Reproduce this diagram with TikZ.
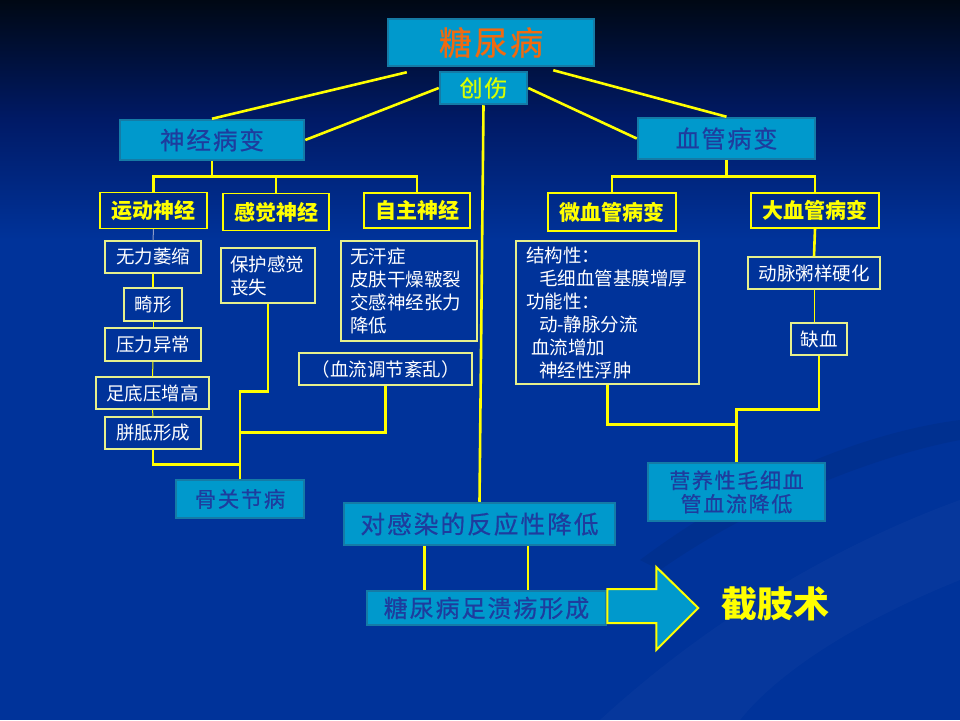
\documentclass[tikz,border=0pt]{standalone}
\usepackage{fontspec}
\newfontfamily\cjk{Noto Sans CJK SC}
\newfontfamily\cjkwide[LetterSpace=8,FakeBold=0.6]{Noto Sans CJK SC}

\definecolor{bgtop}{HTML}{000814}
\definecolor{bgmid}{HTML}{001A66}
\definecolor{bgblue}{HTML}{00339A}
\definecolor{boxfill}{HTML}{0099CC}
\definecolor{boxedge}{HTML}{157BA6}
\definecolor{boxtext}{HTML}{1E3C9E}
\definecolor{titleorange}{HTML}{F06A10}
\definecolor{lineyellow}{HTML}{FFFF00}
\definecolor{paleedge}{HTML}{E6F08C}
\definecolor{fadeline}{HTML}{8C9CC8}

\tikzset{
  cyanbox/.style={draw=boxedge, line width=2.5pt, fill=boxfill, text=boxtext, inner sep=0pt},
  ybox/.style={draw=lineyellow, line width=1.3pt, text=lineyellow, inner sep=0pt,
    font=\cjk\bfseries\fontsize{21}{25}\selectfont},
  wbox/.style={draw=paleedge, line width=1.2pt, text=white, inner sep=0pt,
    font=\cjk\fontsize{18.5}{23}\selectfont},
  yline/.style={draw=lineyellow, line width=2.6pt},
  thinline/.style={draw=lineyellow, line width=1pt},
}

\begin{document}
\begin{tikzpicture}[x=1pt,y=-1pt]

% background
\fill[bgblue] (0,0) rectangle (960,720);
\shade[top color=bgtop, bottom color=bgblue, middle color=bgmid] (0,0) rectangle (960,240);
\fill[white, opacity=0.025] (600,720) .. controls (720,610) and (850,540) .. (960,500)
  -- (960,580) .. controls (860,620) and (780,670) .. (740,720) -- cycle;
\fill[black, opacity=0.06] (640,560) .. controls (760,470) and (880,430) .. (960,420)
  -- (960,440) .. controls (880,455) and (760,500) .. (660,570) -- cycle;
\useasboundingbox (0,0) rectangle (960,720);

% top
\node[cyanbox, minimum width=206, minimum height=47, text=titleorange,
  font=\cjkwide\fontsize{33}{36}\selectfont] (tnb) at (491,42.5) {糖尿病};
\node[cyanbox, minimum width=87, minimum height=32, text=lineyellow!85!green,
  font=\cjkwide\fontsize{23}{26}\selectfont] (cs) at (483.5,88) {创伤};
\node[cyanbox, minimum width=184, minimum height=40,
  font=\cjkwide\fontsize{24.5}{27}\selectfont] (sjbb) at (212,140) {神经病变};
\node[cyanbox, minimum width=177, minimum height=41,
  font=\cjkwide\fontsize{24}{27}\selectfont] (xgbb) at (726.5,138.5) {血管病变};

% nerves
\node[ybox, minimum width=107, minimum height=36] (ydsj) at (153.5,210.5) {运动神经};
\node[ybox, minimum width=106, minimum height=37] (gjsj) at (276,212) {感觉神经};
\node[ybox, minimum width=106, minimum height=35] (zzsj) at (417,210.5) {自主神经};

\node[wbox, minimum width=96, minimum height=32] (wlws) at (153,257) {无力萎缩};
\node[wbox, minimum width=58, minimum height=33] (jx) at (153,304.5) {畸形};
\node[wbox, minimum width=96, minimum height=33] (ylyc) at (153,344.5) {压力异常};
\node[wbox, minimum width=113, minimum height=32] (zdy) at (152.5,393) {足底压增高};
\node[wbox, minimum width=96, minimum height=32] (pzxc) at (153,433) {胼胝形成};

\node[wbox, align=left, text width=76, inner xsep=9, minimum height=55] (bhgj) at (268,275.5)
  {保护感觉\\丧失};
\node[wbox, align=left, text width=118, inner xsep=9, minimum height=100] (wlhz) at (409,291)
  {无汗症\\皮肤干燥皲裂\\交感神经张力\\降低};
\node[wbox, minimum width=173, minimum height=32] (xltj) at (385.5,369) {（血流调节紊乱）};

\node[cyanbox, minimum width=128, minimum height=38,
  font=\cjkwide\fontsize{21.3}{24}\selectfont] (ggjb) at (240,499) {骨关节病};

% vessels
\node[ybox, minimum width=128, minimum height=38] (wxg) at (612,212) {微血管病变};
\node[ybox, minimum width=128, minimum height=35] (dxg) at (815,210.5) {大血管病变};

\node[wbox, align=left, text width=163, inner xsep=10, minimum height=143] (jgx) at (607.5,312.5)
  {结构性：\\\hspace*{13pt}毛细血管基膜增厚\\功能性：\\\hspace*{13pt}动-静脉分流\\\hspace*{5pt}血流增加\\\hspace*{13pt}神经性浮肿};
\node[wbox, minimum width=132, minimum height=32] (dmzy) at (814,273) {动脉粥样硬化};
\node[wbox, minimum width=56, minimum height=32] (qx) at (819,339) {缺血};

\node[cyanbox, minimum width=177, minimum height=58, align=center,
  font=\cjkwide\fontsize{21}{23.5}\selectfont] (yyx) at (736.5,492) {营养性毛细血\\管血流降低};

% bottom
\node[cyanbox, minimum width=271, minimum height=42,
  font=\cjkwide\fontsize{24.7}{27}\selectfont] (dgr) at (479.5,524) {对感染的反应性降低};
\node[cyanbox, minimum width=239, minimum height=34,
  font=\cjkwide\fontsize{24}{26}\selectfont] (tnz) at (486.5,608) {糖尿病足溃疡形成};

\draw[lineyellow, line width=2pt, fill=boxfill] (tnz.east) ++(0,-19) -- ++(49,0) -- ++(0,-22)
  -- ++(42,41) -- ++(-42,42) -- ++(0,-27) -- ++(-49,0) -- cycle;

\node[text=lineyellow, font=\cjk\bfseries\fontsize{36}{40}\selectfont] (jzs) at (775,604) {截肢术};

% connectors
\draw[yline] ([shift={(20,5)}]tnb.south west) -- (sjbb.north);
\draw[yline] ([shift={(-42,3)}]tnb.south east) -- (xgbb.north);
\draw[yline] (cs.west) -- (sjbb.east);
\draw[yline] (cs.east) -- (xgbb.west);
\draw[yline] (cs.south) -- (dgr.north);

\draw[yline] (sjbb.south) -- ++(0,15) coordinate (sjbar);
\draw[yline] (ydsj.north) |- (sjbar) -| (zzsj.north);
\draw[yline] (gjsj.north) -- (gjsj.north |- sjbar);

\draw[fadeline, line width=1pt] (ydsj.south) -- (wlws.north);
\draw[yline] (wlws.south) -- (jx.north);
\draw[thinline] (jx.south) -- (ylyc.north);
\draw[thinline] (ylyc.south) -- (zdy.north);
\draw[thinline] (zdy.south) -- (pzxc.north);
\draw[yline] (pzxc.south) -- ++(0,15) -| (ggjb.north);
\draw[yline] (bhgj.south) -- ++(0,88) -| (ggjb.north);
\draw[yline] (xltj.south) -- ++(0,47) -| (ggjb.north);

\draw[yline] (xgbb.south) -- ++(0,16) coordinate (xgbar);
\draw[yline] (wxg.north) |- (xgbar) -| (dxg.north);
\draw[yline] (dxg.south) -- (dmzy.north);
\draw[thinline] (dmzy.south) -- (dmzy.south |- qx.north);
\draw[yline] (qx.south) -- ++(0,54) -| (yyx.north);
\draw[yline] (jgx.south) -- ++(0,40) -| (yyx.north);

\draw[yline] ([xshift=-55]dgr.south) -- ([xshift=-55]dgr.south |- tnz.north);
\draw[yline] ([xshift=48.5]dgr.south) -- ([xshift=48.5]dgr.south |- tnz.north);

\end{tikzpicture}
\end{document}
